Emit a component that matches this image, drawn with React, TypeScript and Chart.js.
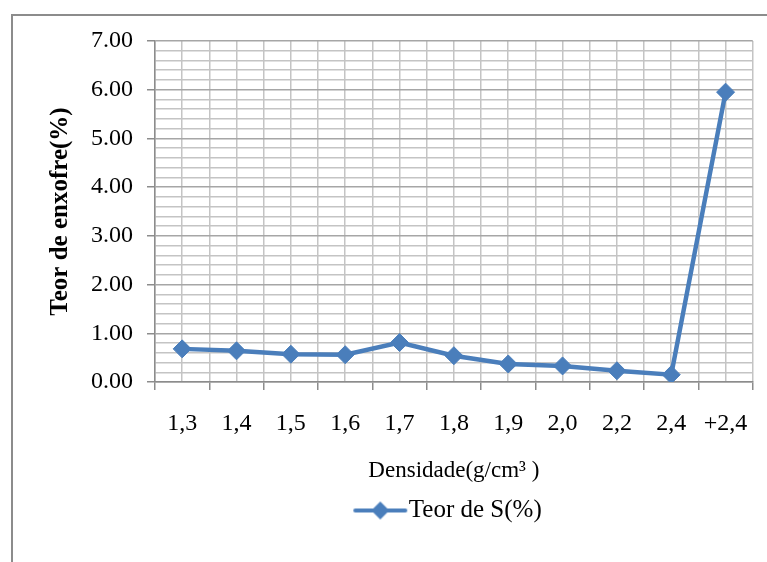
import React, { useEffect, useRef } from "react";
import { Chart, registerables } from "chart.js";

Chart.register(...registerables);

const categories = ["1,3", "1,4", "1,5", "1,6", "1,7", "1,8", "1,9", "2,0", "2,2", "2,4", "+2,4"];
const teorS = [0.68, 0.64, 0.57, 0.56, 0.81, 0.54, 0.37, 0.33, 0.23, 0.15, 5.95];
const seriesName = "Teor de S(%)";
const yTitle = "Teor de enxofre(%)";
const xTitle = "Densidade(g/cm³ )";

const FONT = "'Liberation Serif', 'Times New Roman', serif";
const BLUE = "#4a7ebb";

const framePlugin = {
  id: "frame",
  beforeDraw(chart: any) {
    const ctx = chart.ctx;
    ctx.save();
    ctx.strokeStyle = "#8c8c8c";
    ctx.lineWidth = 2;
    ctx.strokeRect(12, 15, 800, 600);
    ctx.restore();
  },
};

// Legend symbol: line with diamond marker; drawn off-centre inside a wide box
function legendIcon() {
  const c = document.createElement("canvas");
  c.width = 210;
  c.height = 22;
  const g = c.getContext("2d")!;
  g.strokeStyle = BLUE;
  g.lineWidth = 4;
  g.lineCap = "round";
  g.beginPath();
  g.moveTo(156, 11);
  g.lineTo(206, 11);
  g.stroke();
  g.fillStyle = BLUE;
  g.beginPath();
  g.moveTo(181, 2);
  g.lineTo(190, 11);
  g.lineTo(181, 20);
  g.lineTo(172, 11);
  g.closePath();
  g.fill();
  return c;
}

const isMajor = (v: number) => Math.abs(v - Math.round(v)) < 1e-6;

export default function App() {
  const ref = useRef<HTMLCanvasElement>(null);
  useEffect(() => {
    document.body.style.margin = "0";
    const icon = legendIcon();
    const chart = new Chart(ref.current!, {
      type: "line",
      data: {
        labels: categories,
        datasets: [
          {
            label: seriesName,
            data: teorS,
            xAxisID: "x",
            borderColor: BLUE,
            backgroundColor: BLUE,
            borderWidth: 4.5,
            tension: 0,
            pointStyle: "rectRot",
            pointRadius: 9,
            pointHoverRadius: 9,
            pointBackgroundColor: BLUE,
            pointBorderColor: BLUE,
            pointBorderWidth: 1,
          },
        ],
      },
      options: {
        animation: false,
        responsive: true,
        maintainAspectRatio: false,
        layout: { padding: { top: 41, right: 13, left: 0, bottom: 29 } },
        plugins: {
          legend: {
            position: "bottom",
            labels: {
              usePointStyle: true,
              pointStyle: icon as any,
              boxWidth: 184,
              pointStyleWidth: 184,
              padding: 4,
              color: "#000",
              font: { family: FONT, size: 25 },
            },
          },
          tooltip: { enabled: false },
        },
        scales: {
          x: {
            type: "category",
            position: "bottom",
            offset: true,
            grid: {
              offset: true,
              color: "#c4c4c4",
              lineWidth: 1.5,
              tickLength: 8,
              tickColor: "#8c8c8c",
            },
            border: { color: "#8c8c8c", width: 1.5 },
            ticks: {
              color: "#000",
              padding: 19,
              maxRotation: 0,
              autoSkip: false,
              font: { family: FONT, size: 24 },
            },
            title: {
              display: true,
              text: xTitle,
              color: "#000",
              padding: { top: 0, bottom: 9 },
              font: { family: FONT, size: 23 },
            },
            afterFit: (s: any) => {
              s.height = 112;
            },
          },
          x2: {
            type: "category",
            labels: categories,
            position: "top",
            offset: true,
            grid: { offset: false, color: "#c4c4c4", lineWidth: 1.5, drawTicks: false },
            border: { display: false },
            ticks: { display: false },
            afterFit: (s: any) => {
              s.height = 0;
            },
          },
          y: {
            min: 0,
            max: 7,
            grid: {
              color: (c: any) => (c.tick && isMajor(c.tick.value) ? "#a6a6a6" : "#c4c4c4"),
              lineWidth: 1.5,
              tickLength: 8,
              tickColor: (c: any) => (c.tick && isMajor(c.tick.value) ? "#8c8c8c" : "rgba(0,0,0,0)"),
            },
            border: { color: "#8c8c8c", width: 1.5 },
            ticks: {
              stepSize: 0.2,
              autoSkip: false,
              padding: 14,
              color: "#000",
              font: { family: FONT, size: 24 },
              callback: (v: any) => (isMajor(Number(v)) ? Number(v).toFixed(2) : ""),
            },
            title: {
              display: true,
              text: yTitle,
              color: "#000",
              padding: { top: 46, bottom: 0 },
              font: { family: FONT, size: 25, weight: "bold" },
            },
            afterFit: (s: any) => {
              s.width = 155;
            },
          },
        },
      },
      plugins: [framePlugin],
    } as any);
    return () => chart.destroy();
  }, []);
  return (
    <div style={{ position: "relative", width: 767, height: 562 }}>
      <canvas ref={ref} />
    </div>
  );
}
